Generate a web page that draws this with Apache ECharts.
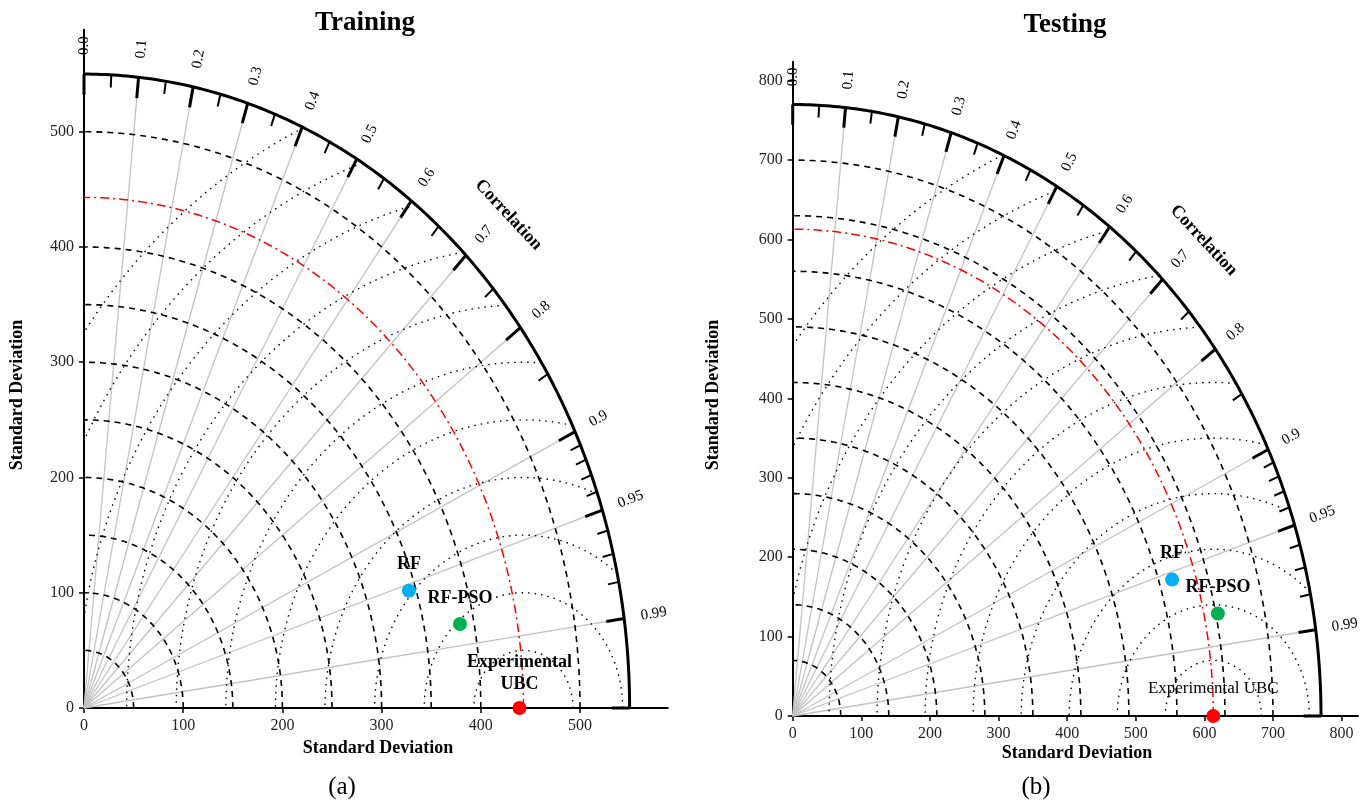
<!DOCTYPE html>
<html><head><meta charset="utf-8">
<script src="https://cdn.jsdelivr.net/npm/echarts@6/dist/echarts.min.js"></script>
<style>html,body{margin:0;padding:0;background:#fff}#c{width:1367px;height:803px}</style>
</head><body><div id="c"></div>
<script>
// ---------------- data ----------------
const modelNames = ['Experimental UBC', 'RF', 'RF-PSO'];
const modelColors = ['#FF0000', '#00B0F0', '#00B050'];
const trainStd = [439, 343, 386];
const trainCorr = [1.0, 0.955, 0.982];
const testStd = [613, 579, 633];
const testCorr = [1.0, 0.955, 0.979];
const trainLabels = ['Experimental\nUBC', 'RF', 'RF-PSO'];
const testLabels = ['Experimental UBC', 'RF', 'RF-PSO'];
const trainRefStd = 443, testRefStd = 613;
const trainMaxStd = 550, testMaxStd = 770;
const trainStdContours = [50, 100, 150, 200, 250, 300, 350, 400, 500];
const testStdContours = [70, 140, 210, 280, 350, 420, 490, 560, 630, 700];
const trainRmsContours = [50, 100, 150, 200, 250, 300, 350, 400, 450, 500, 550];
const testRmsContours = [70, 140, 210, 280, 350, 420, 490, 560, 630, 700, 770];
const corrMajor = [0, 0.1, 0.2, 0.3, 0.4, 0.5, 0.6, 0.7, 0.8, 0.9, 0.95, 0.99, 1.0];
const corrMajorLabels = ['0.0', '0.1', '0.2', '0.3', '0.4', '0.5', '0.6', '0.7', '0.8', '0.9', '0.95', '0.99', ''];
const corrMinor = [0.05, 0.15, 0.25, 0.35, 0.45, 0.55, 0.65, 0.75, 0.85, 0.91, 0.92, 0.93, 0.94, 0.96, 0.97, 0.98];
const corrGridLines = [0.1, 0.2, 0.3, 0.4, 0.5, 0.6, 0.7, 0.8, 0.9, 0.95, 0.99];
const trainAxisTicks = [0, 100, 200, 300, 400, 500];
const testAxisTicks = [0, 100, 200, 300, 400, 500, 600, 700, 800];

const SERIF = '"Liberation Serif", "Times New Roman", serif';

function diagram(gi, o) {
  const R = o.R, axisMax = o.axisMax;
  const sx = o.grid.width / axisMax, sy = o.grid.height / axisMax;
  const pixDeg = th => Math.atan2(Math.sin(th) * sy, Math.cos(th) * sx) * 180 / Math.PI;
  const series = [];
  const L = (data, style, z) => series.push({
    type: 'line', xAxisIndex: gi, yAxisIndex: gi, data, showSymbol: false, symbol: 'none',
    silent: true, animation: false, clip: false, lineStyle: Object.assign({opacity: 1}, style), z
  });
  const arc = (r, a0, a1, n) => {
    const pts = [];
    for (let i = 0; i <= n; i++) { const t = a0 + (a1 - a0) * i / n; pts.push([r * Math.cos(t), r * Math.sin(t)]); }
    return pts;
  };
  corrGridLines.forEach(c => {
    const t = Math.acos(c);
    L([[0, 0], [R * Math.cos(t), R * Math.sin(t)]], {color: '#c2c2c2', width: 1.3}, 1);
  });
  o.stdContours.forEach(s => L(arc(s, 0, Math.PI / 2, 120), {color: '#000', width: 1.6, type: [6, 5]}, 2));
  o.rmsContours.forEach(r => {
    const c = o.ref;
    const k = (R * R - c * c - r * r) / (2 * c * r);
    const p0 = k >= 1 ? 0 : Math.acos(Math.max(-1, k));
    const p1 = r <= c ? Math.PI : Math.acos(-c / r);
    const pts = [];
    const n = 200;
    for (let i = 0; i <= n; i++) { const p = p0 + (p1 - p0) * i / n; pts.push([c + r * Math.cos(p), r * Math.sin(p)]); }
    L(pts, {color: '#000', width: 1.4, type: [1.5, 5]}, 2);
  });
  L(arc(o.ref, 0, Math.PI / 2, 150), {color: '#FF0000', width: 1.5, type: [9, 4, 2, 4]}, 3);
  L(arc(R, 0, Math.PI / 2, 200), {color: '#000', width: 3}, 4);
  corrMajor.forEach(c => {
    const t = Math.acos(c);
    L([[R * Math.cos(t), R * Math.sin(t)], [R * 0.967 * Math.cos(t), R * 0.967 * Math.sin(t)]], {color: '#000', width: 3}, 4);
  });
  corrMinor.forEach(c => {
    const t = Math.acos(c);
    L([[R * Math.cos(t), R * Math.sin(t)], [R * 0.98 * Math.cos(t), R * 0.98 * Math.sin(t)]], {color: '#000', width: 2}, 4);
  });
  series.push({
    type: 'scatter', xAxisIndex: gi, yAxisIndex: gi, silent: true, animation: false, symbolSize: 1,
    itemStyle: {color: 'rgba(0,0,0,0)'}, z: 5,
    data: corrMajor.map((c, i) => {
      const t = Math.acos(c);
      return {
        value: [R * 1.03 * Math.cos(t), R * 1.03 * Math.sin(t)],
        label: {show: corrMajorLabels[i] !== '', formatter: corrMajorLabels[i], position: 'right', distance: 0,
          rotate: pixDeg(t), align: 'left', verticalAlign: 'middle', opacity: 1,
          fontFamily: SERIF, fontSize: 15, color: '#000'}
      };
    })
  });
  series.push({
    type: 'scatter', xAxisIndex: gi, yAxisIndex: gi, silent: true, animation: false, symbolSize: 1,
    itemStyle: {color: 'rgba(0,0,0,0)'}, z: 5,
    data: [{value: [R * 1.1 * Math.cos(Math.PI / 4), R * 1.1 * Math.sin(Math.PI / 4)],
      label: {show: true, formatter: 'Correlation', position: 'inside', rotate: -47, opacity: 1,
        fontFamily: SERIF, fontSize: 18, fontWeight: 'bold', color: '#000'}}]
  });
  series.push({
    type: 'scatter', xAxisIndex: gi, yAxisIndex: gi, silent: true, animation: false, symbolSize: 14, z: 10,
    data: o.std.map((s, i) => {
      const t = Math.acos(o.corr[i]);
      return {
        name: modelNames[i],
        value: [s * Math.cos(t), s * Math.sin(t)],
        itemStyle: {color: modelColors[i], opacity: 1},
        label: {show: true, formatter: o.labels[i], position: 'top', distance: o.labelDist[i], opacity: 1,
          fontFamily: SERIF, fontSize: o.labelSize[i], fontWeight: o.labelBold[i] ? 'bold' : 'normal',
          color: '#000', lineHeight: 22, align: 'center'}
      };
    })
  });
  return series;
}

const gridL = {left: 84, top: 29.7, width: 583.8, height: 678.3};
const gridR = {left: 792.7, top: 61.7, width: 565.3, height: 654.3};
const axL = trainMaxStd * 1.07, axR = testMaxStd * 1.07;

const seriesAll = [].concat(
  diagram(0, {R: trainMaxStd, ref: trainRefStd, axisMax: axL, grid: gridL,
    stdContours: trainStdContours, rmsContours: trainRmsContours,
    std: trainStd, corr: trainCorr, labels: trainLabels,
    labelBold: [true, true, true], labelSize: [18, 18, 18], labelDist: [6, 8, 8]}),
  diagram(1, {R: testMaxStd, ref: testRefStd, axisMax: axR, grid: gridR,
    stdContours: testStdContours, rmsContours: testRmsContours,
    std: testStd, corr: testCorr, labels: testLabels,
    labelBold: [false, true, true], labelSize: [17, 18, 18], labelDist: [9, 8, 8]})
);

const axisCommon = (gi, max, ticks) => ({
  gridIndex: gi, type: 'value', min: 0, max: max, interval: 100, splitLine: {show: false},
  axisLine: {show: true, onZero: false, lineStyle: {color: '#000', width: 2}},
  axisTick: {show: true, length: 5, customValues: ticks, lineStyle: {color: '#000', width: 1.5}},
  axisLabel: {customValues: ticks, fontFamily: SERIF, fontSize: 16, color: '#222', margin: 10}
});

const chart = echarts.init(document.getElementById('c'), null, {renderer: 'canvas'});
chart.setOption({
  animation: false,
  backgroundColor: '#fff',
  grid: [Object.assign({outerBoundsMode: 'none', containLabel: false}, gridL), Object.assign({outerBoundsMode: 'none', containLabel: false}, gridR)],
  xAxis: [axisCommon(0, axL, trainAxisTicks), axisCommon(1, axR, testAxisTicks)],
  yAxis: [axisCommon(0, axL, trainAxisTicks), axisCommon(1, axR, testAxisTicks)],
  graphic: [
    {type: 'text', x: 365, y: 23, style: {text: 'Training', font: 'bold 27px ' + SERIF, fill: '#000', align: 'center', verticalAlign: 'middle'}},
    {type: 'text', x: 1065, y: 25, style: {text: 'Testing', font: 'bold 27px ' + SERIF, fill: '#000', align: 'center', verticalAlign: 'middle'}},
    {type: 'text', x: 378, y: 748, style: {text: 'Standard Deviation', font: 'bold 18px ' + SERIF, fill: '#000', align: 'center', verticalAlign: 'middle'}},
    {type: 'text', x: 1077, y: 753, style: {text: 'Standard Deviation', font: 'bold 18px ' + SERIF, fill: '#000', align: 'center', verticalAlign: 'middle'}},
    {type: 'text', x: 17, y: 395, rotation: Math.PI / 2, style: {text: 'Standard Deviation', font: 'bold 18px ' + SERIF, fill: '#000', align: 'center', verticalAlign: 'middle'}},
    {type: 'text', x: 713, y: 395, rotation: Math.PI / 2, style: {text: 'Standard Deviation', font: 'bold 18px ' + SERIF, fill: '#000', align: 'center', verticalAlign: 'middle'}},
    {type: 'text', x: 342, y: 787, style: {text: '(a)', font: '25px ' + SERIF, fill: '#000', align: 'center', verticalAlign: 'middle'}},
    {type: 'text', x: 1036, y: 787, style: {text: '(b)', font: '25px ' + SERIF, fill: '#000', align: 'center', verticalAlign: 'middle'}}
  ],
  series: seriesAll
});
</script>
</body></html>
